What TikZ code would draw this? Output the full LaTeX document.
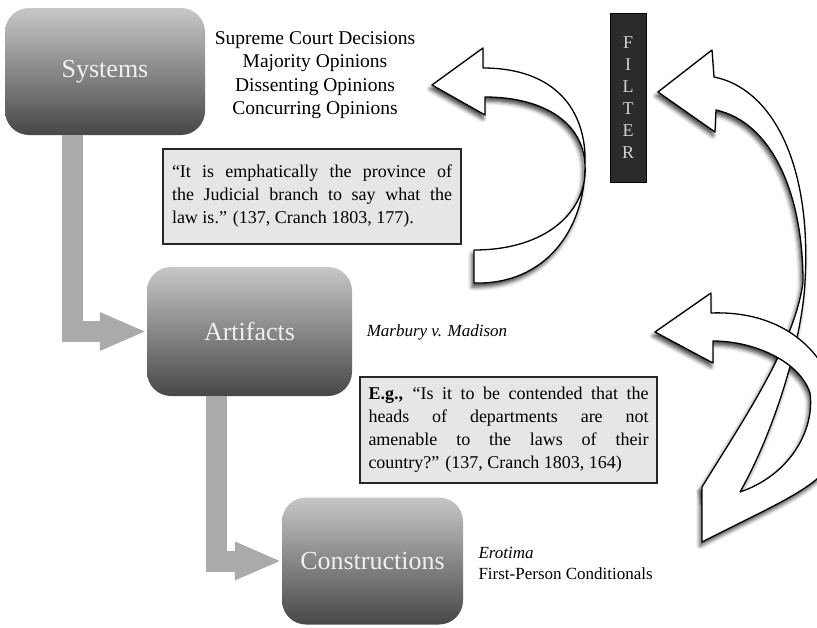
\documentclass[tikz,border=0pt]{standalone}
\usepackage{fontspec}
\setmainfont{Liberation Serif}
\usetikzlibrary{arrows.meta, shadows.blur}
\definecolor{linkgray}{HTML}{AAAAAA}
\definecolor{quotegray}{HTML}{E6E6E6}
\definecolor{filterdark}{HTML}{2B2B2B}
\tikzset{
  stage/.style={rounded corners=24pt, top color=black!22, bottom color=black!72, inner sep=0pt,
    text=black!6, font=\fontsize{26}{30}\selectfont},
  quote/.style={fill=quotegray, draw=black!85, line width=1.5pt, inner sep=0pt, text width=280pt,
    align=justify, font=\fontsize{18}{23}\selectfont},
  link/.style={line width=21pt, draw=linkgray, -{Triangle[length=47pt,width=35pt]}},
  shade/.style={blur shadow={shadow xshift=-2pt, shadow yshift=-4pt,
    shadow blur radius=4pt, shadow opacity=75}},
  ribbon/.style={fill=white, shade},
  rim/.style={draw=black, line width=1.3pt, line join=round},
}
\begin{document}
\begin{tikzpicture}[x=1pt, y=-1pt]
  \clip (0,0) rectangle (817,627);

  % the three stages
  \node[stage, minimum width=200pt, minimum height=127pt] (sys) at (105,71.5) {Systems};
  \node[stage, minimum width=205pt, minimum height=129pt] (art) at (249.5,331.5) {Artifacts};
  \node[stage, minimum width=181pt, minimum height=127pt] (cons) at (372.5,561) {Constructions};

  \draw[link] ([xshift=-33pt]sys.south) |- (art.west);
  \draw[link] ([xshift=-33pt]art.south) |- (cons.west);

  % labels
  \node[font=\fontsize{19.5}{23.5}\selectfont, align=center] (dec) at (315,75)
    {Supreme Court Decisions\\Majority Opinions\\Dissenting Opinions\\Concurring Opinions};
  \node[font=\fontsize{17}{21}\selectfont\itshape] (case) at (437,332) {Marbury v. Madison};
  \node[font=\fontsize{17}{21}\selectfont, align=left, anchor=west] (ero) at (475,563)
    {\textit{Erotima}\\First-Person Conditionals};

  % quotes
  \node[quote, minimum width=298pt, minimum height=95pt] (q1) at (312,196.5)
    {“It is emphatically the province of\linebreak the Judicial branch to say what the\linebreak
     law is.” (137, Cranch 1803, 177).};
  \node[quote, minimum width=297pt, minimum height=106pt] (q2) at (508.5,430)
    {\textbf{E.g.,} “Is it to be contended that the\linebreak heads of departments are not\linebreak
     amenable to the laws of their\linebreak country?” (137, Cranch 1803, 164)};

  \node[fill=filterdark, draw=black, line width=1pt, minimum width=36pt, minimum height=169pt,
    text=black!18, align=center, font=\fontsize{18}{22}\selectfont] (filt) at (628,97.5)
    {F\\I\\L\\T\\E\\R};

  % curved arrows
  \path[ribbon, rim] (474,283) .. controls (545,285) and (585,230) .. (585,165)
    .. controls (587,110) and (555,68) .. (483,68) -- (483,48) -- (432,85) -- (485,115) -- (485,97)
    .. controls (540,97) and (583,120) .. (585,165) .. controls (588,210) and (548,250) .. (474,250) -- cycle;

  % lower right pair: shadow of the front one first
  \path[shade] (655,332) -- (711,293) -- (711,313) .. controls (790,310) and (840,360) .. (840,430)
    .. controls (840,480) and (800,492) .. (702,542) -- (702,487) -- (740,492)
    .. controls (790,475) and (815,430) .. (810,393) .. controls (800,362) and (755,341) .. (713,341)
    -- (713,363) -- cycle;

  \fill[ribbon] (658,92) -- (712,50) -- (714,77) .. controls (770,88) and (812,160) .. (805,282)
    .. controls (802,340) and (775,430) .. (740,492) -- (731,499) -- (704,499) -- (702,487)
    .. controls (740,425) and (795,345) .. (803,282) .. controls (803,190) and (770,122) .. (716,110)
    -- (715,132) -- cycle;
  \draw[rim] (740,492) .. controls (775,430) and (802,340) .. (805,282)
    .. controls (812,160) and (770,88) .. (714,77) -- (712,50) -- (658,92) -- (715,132) -- (716,110)
    .. controls (770,122) and (803,190) .. (803,282) .. controls (795,345) and (740,425) .. (702,487);

  \fill[white] (655,332) -- (711,293) -- (711,313) .. controls (790,310) and (840,360) .. (840,430)
    .. controls (840,480) and (800,492) .. (702,542) -- (702,487) -- (740,492)
    .. controls (790,475) and (815,430) .. (810,393) .. controls (800,362) and (755,341) .. (713,341)
    -- (713,363) -- cycle;
  \draw[rim] (740,492) .. controls (790,475) and (815,430) .. (810,393)
    .. controls (800,362) and (755,341) .. (713,341) -- (713,363) -- (655,332) -- (711,293) -- (711,313)
    .. controls (790,310) and (840,360) .. (840,430) .. controls (840,480) and (800,492) .. (702,542)
    -- (702,487);
\end{tikzpicture}
\end{document}
